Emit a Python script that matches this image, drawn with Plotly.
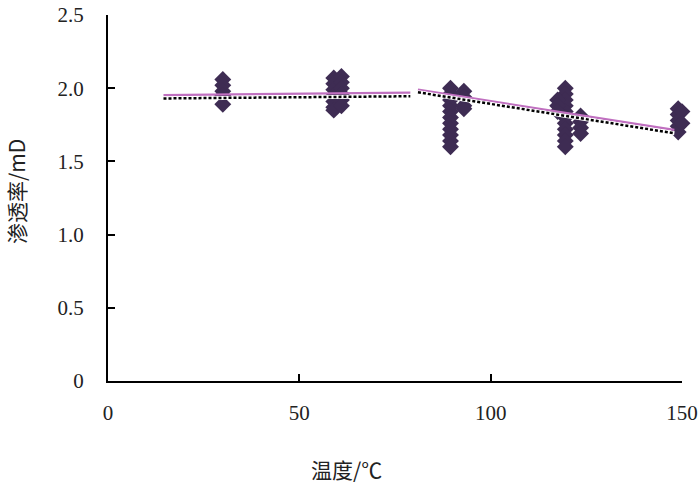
import plotly.graph_objects as go

# measured permeability (mD) at each temperature (deg C)
temp_30 = [30] * 5
perm_30 = [2.06, 2.02, 1.98, 1.95, 1.89]
temp_60 = [59] * 7 + [61] * 6
perm_60 = [2.07, 2.03, 1.99, 1.95, 1.91, 1.87, 1.85,
           2.08, 2.04, 2.00, 1.96, 1.92, 1.88]
temp_90 = [89.5] * 11 + [93] * 4
perm_90 = [2.00, 1.96, 1.92, 1.88, 1.84, 1.80, 1.76, 1.72, 1.68, 1.64, 1.60,
           1.98, 1.94, 1.88, 1.86]
temp_120 = [119.5] * 11 + [117.5] * 3 + [123.5] * 4
perm_120 = [2.00, 1.96, 1.92, 1.88, 1.84, 1.80, 1.76, 1.72, 1.68, 1.64, 1.60,
            1.92, 1.88, 1.84,
            1.81, 1.77, 1.73, 1.69]
temp_150 = [149] * 5 + [150] * 2
perm_150 = [1.86, 1.82, 1.78, 1.74, 1.70, 1.84, 1.76]

# trend lines, two temperature ranges
fit_low_x = [14.5, 79]
fit_low_pink = [1.953, 1.970]
fit_low_black = [1.930, 1.945]
fit_high_x = [81, 148]
fit_high_pink = [1.990, 1.715]
fit_high_black = [1.972, 1.692]

x_ticks = [0, 50, 100, 150]
y_ticks = [0, 0.5, 1.0, 1.5, 2.0, 2.5]
y_tick_text = ["0", "0.5", "1.0", "1.5", "2.0", "2.5"]

marker_color = "#3e2c53"
pink = "#c070c0"

fig = go.Figure()

all_x = temp_30 + temp_60 + temp_90 + temp_120 + temp_150
all_y = perm_30 + perm_60 + perm_90 + perm_120 + perm_150
fig.add_trace(
    go.Scatter(
        x=all_x, y=all_y, mode="markers", cliponaxis=False,
        marker={"symbol": "diamond", "size": 13, "color": marker_color,
                "line": {"width": 0}},
    )
)

for fx, fp, fb in ((fit_low_x, fit_low_pink, fit_low_black),
                   (fit_high_x, fit_high_pink, fit_high_black)):
    fig.add_trace(go.Scatter(x=fx, y=fp, mode="lines",
                             line={"color": pink, "width": 2.2}))
    fig.add_trace(go.Scatter(x=fx, y=fb, mode="lines",
                             line={"color": "white", "width": 4}))
    fig.add_trace(go.Scatter(x=fx, y=fb, mode="lines",
                             line={"color": "black", "width": 2.5, "dash": "3px,2px"}))

num_font = {"family": "Times New Roman, Liberation Serif, serif", "size": 21, "color": "#222"}
cjk_font = {"family": "Noto Sans CJK SC", "size": 21, "color": "#222"}

fig.update_xaxes(
    range=[0, 150], tickvals=x_ticks, ticks="inside", ticklen=7, tickwidth=1.5,
    tickcolor="black", showline=True, linecolor="black", linewidth=2,
    showgrid=False, zeroline=False, tickfont=num_font, ticklabelstandoff=12,
    ticklabeloverflow="allow", automargin=False,
)
fig.update_yaxes(
    range=[0, 2.5], tickvals=y_ticks, ticktext=y_tick_text, ticks="inside",
    ticklen=7, tickwidth=1.5, tickcolor="black", showline=True,
    linecolor="black", linewidth=2, showgrid=False, zeroline=False,
    tickfont=num_font, ticklabelstandoff=18, ticklabeloverflow="allow",
    automargin=False,
)

# place axis titles in pixel terms
W, H = 700, 483
L, R, T, B = 108, 18, 15, 102
pw, ph = W - L - R, H - T - B
fig.add_annotation(text="温度/℃", x=(346 - L) / pw, y=(H - B - 469) / ph,
                   xanchor="center", yanchor="middle",
                   xref="paper", yref="paper", showarrow=False, font=cjk_font)
fig.add_annotation(text="渗透率/mD", x=(16 - L) / pw, y=(H - B - 192) / ph,
                   xanchor="center", yanchor="middle",
                   xref="paper", yref="paper", showarrow=False,
                   textangle=-90, font=cjk_font)

fig.update_layout(
    width=W, height=H, showlegend=False,
    margin={"l": L, "r": R, "t": T, "b": B},
    plot_bgcolor="white", paper_bgcolor="white",
)

fig.write_html("out.html", config={"displayModeBar": False},
               post_script="document.body.style.margin='0';")
